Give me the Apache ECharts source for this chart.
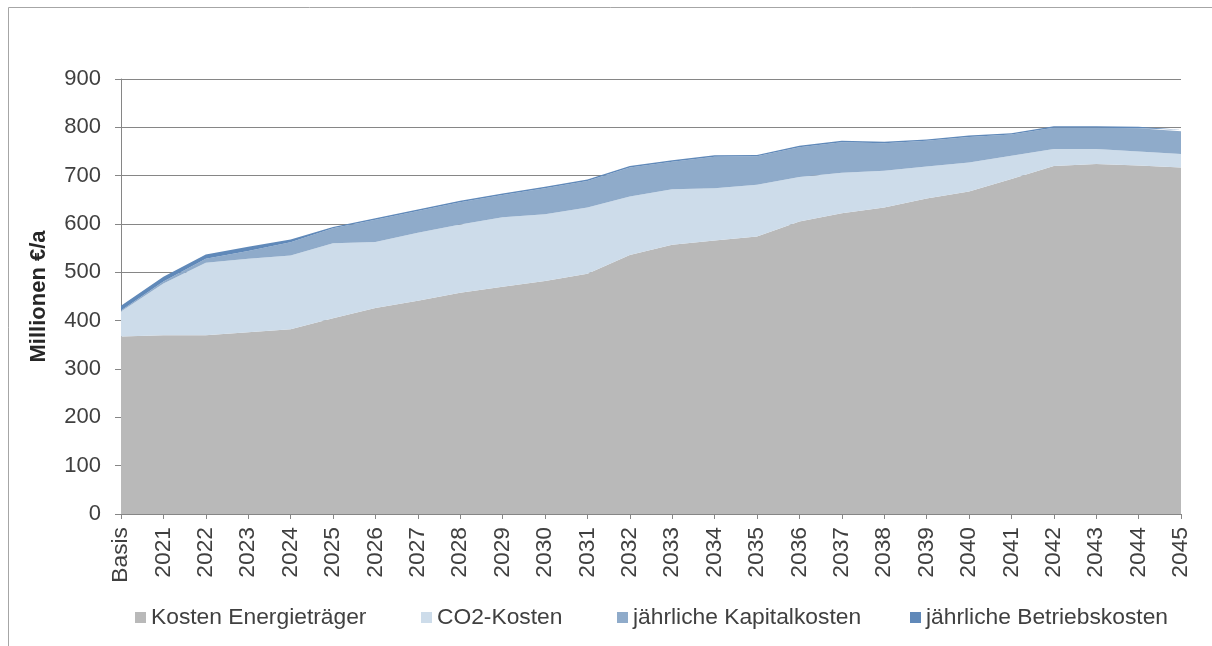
<!DOCTYPE html>
<html>
<head>
<meta charset="utf-8">
<script src="https://cdn.jsdelivr.net/npm/echarts@6/dist/echarts.min.js"></script>
<style>
  html, body { margin: 0; padding: 0; background: #fff; }
  #main { width: 1212px; height: 646px; }
</style>
</head>
<body>
<div id="main"></div>
<script>
// Kategorien und Werte (Millionen €/a)
var years = ['Basis', '2021', '2022', '2023', '2024', '2025', '2026', '2027', '2028', '2029',
  '2030', '2031', '2032', '2033', '2034', '2035', '2036', '2037', '2038', '2039',
  '2040', '2041', '2042', '2043', '2044', '2045'];
var energietraeger = [367, 370, 370, 376, 382, 405, 426, 441, 458, 470,
  482, 497, 536, 557, 566, 574, 605, 622, 634, 653,
  667, 693, 720, 724, 721, 717];
var co2Kosten = [52, 107, 150, 152, 153, 155, 137, 141, 141, 144,
  138, 137, 121, 115, 108, 107, 92, 84, 76, 66,
  60, 48, 35, 31, 29, 28];
var kapitalkosten = [2, 4, 8, 16, 27, 31, 46, 45, 46, 46,
  54, 55, 60, 57, 65, 59, 62, 63, 57, 53,
  53, 44, 44, 44, 48, 47];
var betriebskosten = [10, 10, 9, 9, 6, 3, 3, 3, 3, 3,
  3, 3, 3, 3, 3, 3, 3, 3, 3, 3,
  3, 3, 3, 3, 3, 3];
var seriesNames = ['Kosten Energieträger', 'CO2-Kosten', 'jährliche Kapitalkosten', 'jährliche Betriebskosten'];
var yTicks = [0, 100, 200, 300, 400, 500, 600, 700, 800, 900];

var font = '"Liberation Sans", Arial, sans-serif';
var colors = ['#b9b9b9', '#cddcea', '#8fabca', '#6089b9'];
var chart = echarts.init(document.getElementById('main'));

function area(name, data, color) {
  return {
    name: name,
    type: 'line',
    stack: 'gesamt',
    data: data,
    symbol: 'none',
    lineStyle: { width: 0 },
    areaStyle: { color: color, opacity: 1 },
    itemStyle: { color: color },
    emphasis: { disabled: true },
    animation: false
  };
}

// Legende wie im Original: jeder Eintrag an eigener Position
var legendLeft = [135, 421, 617, 910];
var legends = seriesNames.map(function (n, i) {
  return {
    data: [n],
    left: legendLeft[i],
    top: 606,
    padding: 0,
    icon: 'rect',
    itemWidth: 11,
    itemHeight: 11,
    itemGap: 5,
    selectedMode: false,
    textStyle: { fontFamily: font, fontSize: 22.8, color: '#404040', lineHeight: 23 }
  };
});

var option = {
  backgroundColor: '#fff',
  graphic: [{
    type: 'rect',
    shape: { x: 8.5, y: 7.5, width: 1400, height: 800 },
    style: { fill: 'none', stroke: '#a6a6a6', lineWidth: 1 },
    silent: true
  }],
  grid: { left: 121, right: 31, top: 79, bottom: 132 },
  legend: legends,
  xAxis: {
    type: 'category',
    data: years,
    boundaryGap: false,
    axisLine: { lineStyle: { color: '#868686' } },
    axisTick: { show: true, length: 5, lineStyle: { color: '#868686' } },
    axisLabel: {
      rotate: 90,
      interval: 0,
      margin: 13,
      fontFamily: font,
      fontSize: 22.8,
      color: '#404040'
    }
  },
  yAxis: {
    type: 'value',
    min: yTicks[0],
    max: yTicks[yTicks.length - 1],
    interval: 100,
    name: 'Millionen €/a',
    nameLocation: 'middle',
    nameGap: 71,
    nameRotate: 90,
    nameTextStyle: { fontFamily: font, fontSize: 22, fontWeight: 'bold', color: '#262626' },
    axisLine: { show: true, lineStyle: { color: '#868686' } },
    axisTick: { show: true, length: 6, lineStyle: { color: '#868686' } },
    axisLabel: { fontFamily: font, fontSize: 22, color: '#404040', margin: 20 },
    splitLine: { lineStyle: { color: '#868686', width: 1 } }
  },
  series: seriesNames.map(function (n, i) {
    return area(n, [energietraeger, co2Kosten, kapitalkosten, betriebskosten][i], colors[i]);
  })
};

chart.setOption(option);
</script>
</body>
</html>
